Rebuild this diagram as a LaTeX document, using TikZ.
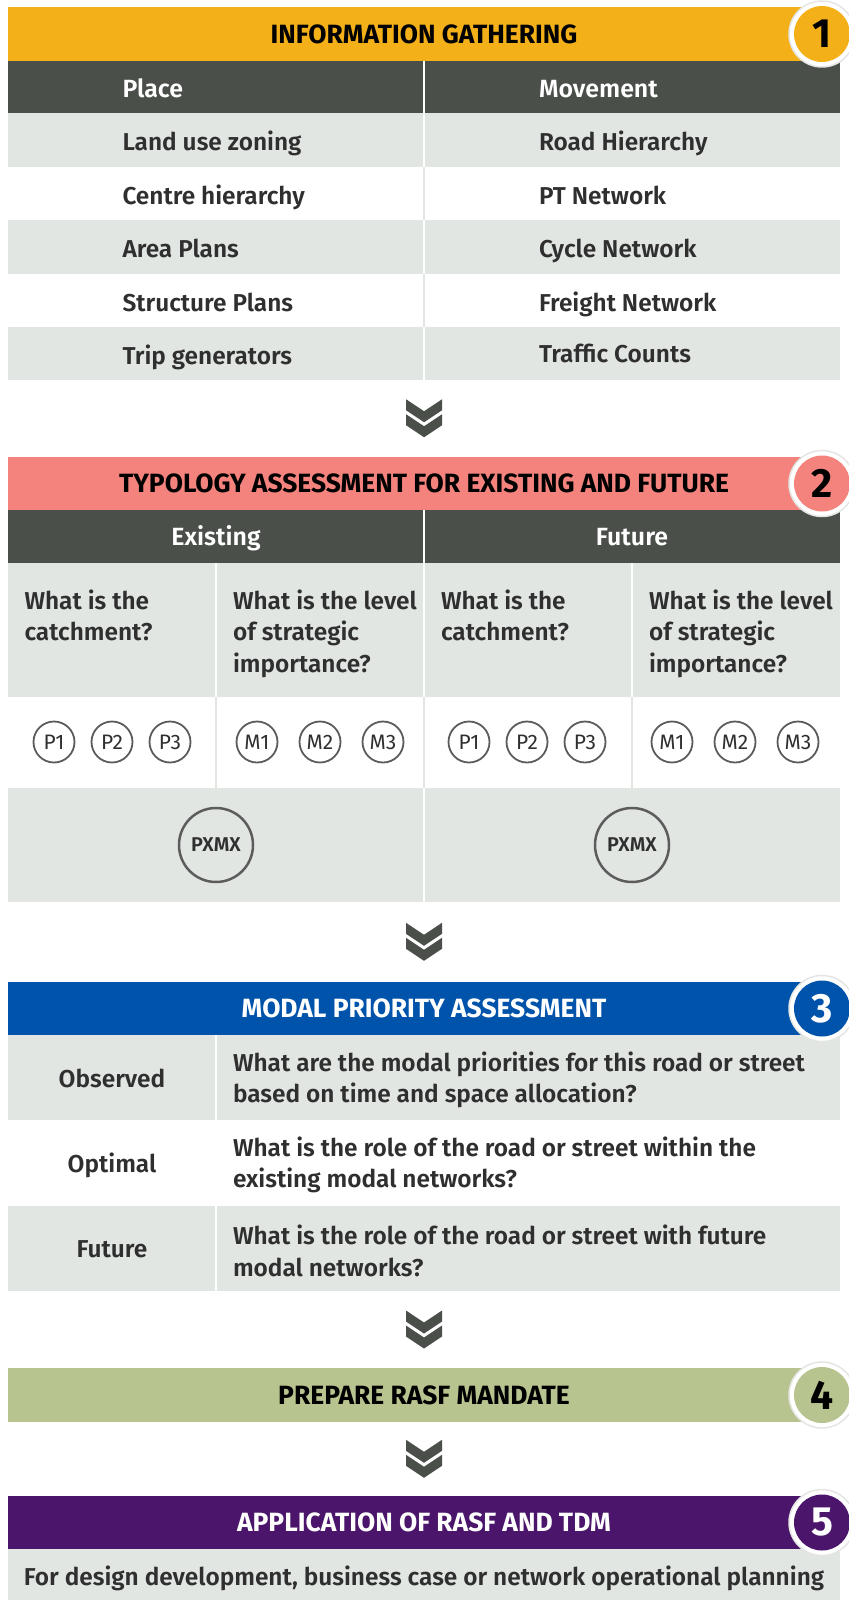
\documentclass[tikz,border=0pt]{standalone}
\usepackage{fontspec}
\setmainfont{Fira Sans}[UprightFont={* SemiBold},BoldFont={* Bold}]
\newfontfamily\regfont{Fira Sans}
\usetikzlibrary{calc}
\definecolor{cYel}{HTML}{F3B019}
\definecolor{cDark}{HTML}{4A4F4A}
\definecolor{cLight}{HTML}{E2E6E3}
\definecolor{cSal}{HTML}{F4837D}
\definecolor{cBlue}{HTML}{0053AA}
\definecolor{cGreen}{HTML}{B8C48F}
\definecolor{cPurp}{HTML}{4A156A}
\definecolor{cTxt}{HTML}{2F2F2F}
\definecolor{cRing}{HTML}{E4E6E4}
\definecolor{cCirc}{HTML}{5C5C5C}
\begin{document}
\begin{tikzpicture}[x=1bp,y=-1bp,
  every node/.style={inner sep=0pt, outer sep=0pt},
  bar/.style={minimum width=832bp, minimum height=54bp, font=\bfseries\fontsize{26.5}{28}\selectfont},
  coltext/.style={font=\fontsize{25}{28}\selectfont, text=white},
  bodytext/.style={font=\fontsize{24.5}{31.5}\selectfont, text=cTxt, align=left},
  numring/.style={circle, minimum size=66bp, fill=white, draw=cRing, line width=1.5bp},
  numdisc/.style={circle, minimum size=56bp, font=\bfseries\fontsize{41}{41}\selectfont},
  pcirc/.style={circle, minimum size=41bp, draw=cCirc, line width=1.8bp, font=\regfont\fontsize{21}{21}\selectfont, text=cTxt},
  pxcirc/.style={circle, minimum size=74bp, draw=cCirc, line width=2.5bp, font=\fontsize{20}{20}\selectfont, text=cTxt},
  wsep/.style={white, line width=1.5bp},
  gsep/.style={cLight, line width=1.5bp},
  dchev/.pic={
    \fill[cDark] (-18,-19) -- (0,-7) -- (18,-19) -- (18,-8) -- (0,4) -- (-18,-8) -- cycle;
    \fill[cDark] (-18,-4) -- (0,8) -- (18,-4) -- (18,7) -- (0,19) -- (-18,7) -- cycle;
  }
]
\useasboundingbox (0,0) rectangle (848,1600);
\fill[white] (0,0) rectangle (848,1600);

% ---------------- Section 1 ----------------
\node[bar, fill=cYel, text=black] (h1) at (424,34) {INFORMATION GATHERING};
\fill[cDark] (8,61) rectangle (840,113);
\foreach \t/\b in {113/166.5, 220/273.5, 327/380} {\fill[cLight] (8,\t) rectangle (840,\b);}
\draw[wsep] (424,61) -- (424,113);
\foreach \t/\b in {113/166.5, 220/273.5, 327/380} {\draw[wsep] (424,\t) -- (424,\b);}
\foreach \t/\b in {166.5/220, 273.5/327} {\draw[gsep] (424,\t) -- (424,\b);}
\node[coltext, anchor=base west] (place) at (122.5,98) {Place};
\node[coltext, anchor=base west] (move) at (539,98) {Movement};
\node[bodytext, anchor=base west] (a1) at (122.5,150.5) {Land use zoning};
\node[bodytext, anchor=base west] (a2) at (122.5,204) {Centre hierarchy};
\node[bodytext, anchor=base west] (a3) at (122.5,257.5) {Area Plans};
\node[bodytext, anchor=base west] (a4) at (122.5,311) {Structure Plans};
\node[bodytext, anchor=base west] (a5) at (122.5,364.5) {Trip generators};
\node[bodytext, anchor=base west] (b1) at (539,150.5) {Road Hierarchy};
\node[bodytext, anchor=base west] (b2) at (539,204) {PT Network};
\node[bodytext, anchor=base west] (b3) at (539,257.5) {Cycle Network};
\node[bodytext, anchor=base west] (b4) at (539,311) {Freight Network};
\node[bodytext, anchor=base west] (b5) at (539,362) {Traffic Counts};
\node[numring] (r1) at (822,34) {};
\node[numdisc, fill=cYel, text=black] (n1) at (822,34) {1};
\coordinate (t1) at (424,380);

% ---------------- Section 2 ----------------
\node[bar, fill=cSal, text=black] (h2) at (424,483.5) {TYPOLOGY ASSESSMENT FOR EXISTING AND FUTURE};
\fill[cDark] (8,510) rectangle (840,563);
\fill[cLight] (8,563) rectangle (840,697);
\fill[cLight] (8,788) rectangle (840,902);
\draw[wsep] (424,510) -- (424,563);
\foreach \x in {216,424,632} {\draw[wsep] (\x,563) -- (\x,697); \draw[gsep] (\x,697) -- (\x,788);}
\draw[wsep] (424,788) -- (424,902);
\node[coltext, anchor=base] (ex) at (216,545.5) {Existing};
\node[coltext, anchor=base] (fu) at (632,545.5) {Future};
\node[bodytext, anchor=north west] (q1) at (24.5,590) {What is the\\catchment?};
\node[bodytext, anchor=north west] (q2) at (233,590) {What is the level\\of strategic\\importance?};
\node[bodytext, anchor=north west] (q3) at (441,590) {What is the\\catchment?};
\node[bodytext, anchor=north west] (q4) at (649,590) {What is the level\\of strategic\\importance?};
\node[pcirc] (ep1) at (54,742) {P1};
\node[pcirc] (ep2) at (112,742) {P2};
\node[pcirc] (ep3) at (170,742) {P3};
\node[pcirc] (em1) at (257,742) {M1};
\node[pcirc] (em2) at (320,742) {M2};
\node[pcirc] (em3) at (383,742) {M3};
\node[pcirc] (fp1) at (469,742) {P1};
\node[pcirc] (fp2) at (527,742) {P2};
\node[pcirc] (fp3) at (585,742) {P3};
\node[pcirc] (fm1) at (672,742) {M1};
\node[pcirc] (fm2) at (735,742) {M2};
\node[pcirc] (fm3) at (798,742) {M3};
\node[pxcirc] (epx) at (216,845) {PXMX};
\node[pxcirc] (fpx) at (632,845) {PXMX};
\node[numring] (r2) at (822,483.5) {};
\node[numdisc, fill=cSal, text=black] (n2) at (822,483.5) {2};
\coordinate (t2) at (424,902);

% ---------------- Section 3 ----------------
\node[bar, fill=cBlue, text=white] (h3) at (424,1008.5) {MODAL PRIORITY ASSESSMENT};
\fill[cLight] (8,1035) rectangle (840,1120);
\fill[cLight] (8,1206) rectangle (840,1291);
\draw[wsep] (216,1035) -- (216,1120);
\draw[wsep] (216,1206) -- (216,1291);
\node[bodytext, anchor=base] (obs) at (112,1087.5) {Observed};
\node[bodytext, anchor=base] (opt) at (112,1172) {Optimal};
\node[bodytext, anchor=base] (fut) at (112,1257.5) {Future};
\node[bodytext, anchor=west] (oq) at (233,1080) {What are the modal priorities for this road or street\\based on time and space allocation?};
\node[bodytext, anchor=west] (pq) at (233,1165) {What is the role of the road or street within the\\existing modal networks?};
\node[bodytext, anchor=west] (fq) at (233,1251) {What is the role of the road or street with future\\modal networks?};
\node[numring] (r3) at (822,1008.5) {};
\node[numdisc, fill=cBlue, text=white] (n3) at (822,1008.5) {3};
\coordinate (t3) at (424,1291);

% ---------------- Section 4 ----------------
\node[bar, fill=cGreen, text=black] (h4) at (424,1395) {PREPARE RASF MANDATE};
\node[numring] (r4) at (822,1395) {};
\node[numdisc, fill=cGreen, text=black] (n4) at (822,1395) {4};

% ---------------- Section 5 ----------------
\node[bar, fill=cPurp, text=white] (h5) at (424,1522.5) {APPLICATION OF RASF AND TDM};
\fill[cLight] (8,1549) rectangle (840,1600);
\node[bodytext, anchor=base] (last) at (424,1585) {For design development, business case or network operational planning};
\node[numring] (r5) at (822,1522.5) {};
\node[numdisc, fill=cPurp, text=white] (n5) at (822,1522.5) {5};

% ---------------- chevrons ----------------
\pic at ($(t1)!0.5!(h2.north)$) {dchev};
\pic at ($(t2)!0.5!(h3.north)$) {dchev};
\pic at ($(t3)!0.5!(h4.north)$) {dchev};
\pic at ($(h4.south)!0.5!(h5.north)$) {dchev};
\end{tikzpicture}
\end{document}
